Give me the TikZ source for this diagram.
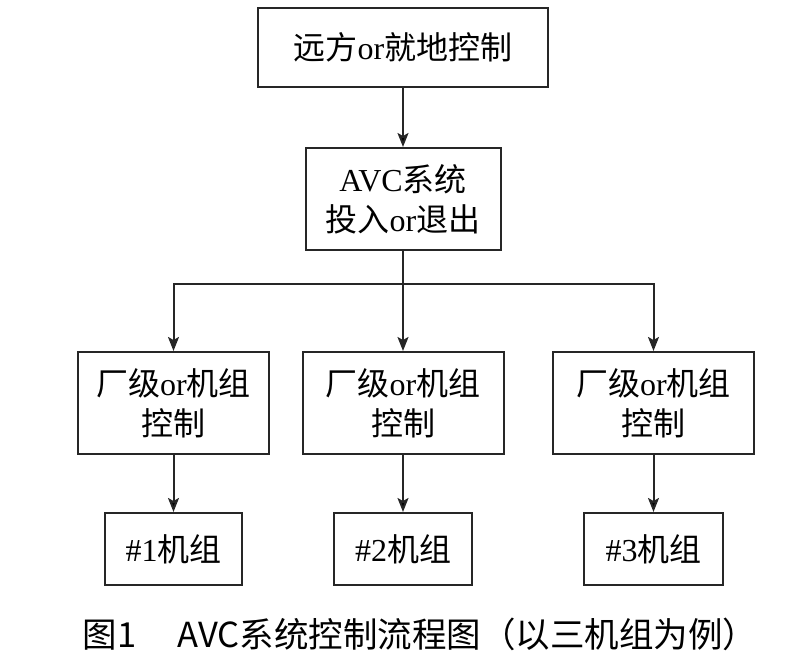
\documentclass[tikz,border=0pt]{standalone}
\usepackage{fontspec}
\setmainfont{Liberation Serif}
\newfontfamily\cjk{Noto Sans CJK SC}
\usetikzlibrary{arrows.meta,positioning}
\newcommand{\zh}[1]{{\cjk #1}}

\begin{document}
\begin{tikzpicture}[x=1pt,y=-1pt,->,>={Stealth[length=14pt,width=11pt,inset=3pt]},line width=2pt,
    box/.style={draw=black!85,shape=rectangle,inner sep=0pt,align=center,
        font=\fontsize{32}{40}\selectfont},
    link/.style={draw=black!85,line width=2pt}]
            \useasboundingbox (0,0) rectangle (811,658);
            \node[box,minimum width=290pt,minimum height=79pt](remote)at(403, 47.5){\zh{远方}or\zh{就地控制}};
            \node[box,minimum width=195pt,minimum height=102pt](avc)at(403, 199){AVC\zh{系统}\\\zh{投入}or\zh{退出}};
            \node[box,minimum width=191pt,minimum height=102pt](plant1)at(173.5, 403){\zh{厂级}or\zh{机组}\\\zh{控制}};
            \node[box,minimum width=201pt,minimum height=102pt](plant2)at(403, 403){\zh{厂级}or\zh{机组}\\\zh{控制}};
            \node[box,minimum width=201pt,minimum height=102pt](plant3)at(653.5, 403){\zh{厂级}or\zh{机组}\\\zh{控制}};
            \node[box,minimum width=137pt,minimum height=72pt](unit1)at(173.5, 549){\#1\zh{机组}};
            \node[box,minimum width=138pt,minimum height=72pt](unit2)at(403, 549){\#2\zh{机组}};
            \node[box,minimum width=139pt,minimum height=72pt](unit3)at(653.5, 549){\#3\zh{机组}};
            \node[font=\cjk\fontsize{34.5}{40}\selectfont,inner sep=0pt](caption)at(420, 634){图1\hspace{1.2em}AVC系统控制流程图（以三机组为例）};
            \coordinate(bus)at(403, 284);
            \path[link](remote) edge (avc)
            (plant1) edge (unit1)
            (plant2) edge (unit2)
            (plant3) edge (unit3);
            \draw[link,-](avc) -- (bus);
            \draw[link](bus) -| (plant1);
            \draw[link](bus) -- (plant2);
            \draw[link](bus) -| (plant3);
        \end{tikzpicture}
\end{document}
